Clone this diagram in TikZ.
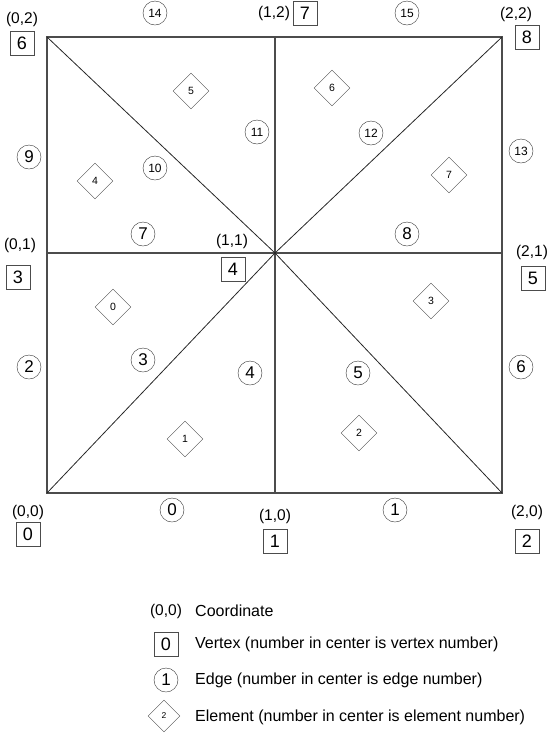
\documentclass[tikz,border=0pt]{standalone}
\usepackage{fontspec}
\setmainfont{Liberation Sans}
\usetikzlibrary{shapes.geometric}

\tikzset{
    vertexbox/.style={draw=black!70, rectangle, minimum size=24pt, inner sep=0pt, font=\fontsize{18}{20}\selectfont},
    edgecirc/.style={draw=black!80, circle, minimum size=24pt, inner sep=0pt, font=\fontsize{17}{19}\selectfont},
    edgesmall/.style={edgecirc, font=\fontsize{12}{14}\selectfont},
    elemdiam/.style={draw=black!70, diamond, aspect=1, minimum size=36pt, inner sep=0pt, font=\fontsize{10.5}{12}\selectfont},
    coordlbl/.style={inner sep=0pt, font=\fontsize{15.5}{17}\selectfont},
    legendtext/.style={anchor=west, inner sep=0pt, font=\fontsize{16}{18}\selectfont},
    meshline/.style={draw=black!70, line width=1.3pt},
    diagline/.style={draw=black!85, line width=0.8pt}
}

\begin{document}
\begin{tikzpicture}[x=1pt, y=-1pt]

    \useasboundingbox (0,0) rectangle (550,740);

    % Mesh corners
    \coordinate (p00) at (47,493);
    \coordinate (p10) at (275,493);
    \coordinate (p20) at (502,493);
    \coordinate (p01) at (47,253);
    \coordinate (p11) at (275,253);
    \coordinate (p21) at (502,253);
    \coordinate (p02) at (47,37);
    \coordinate (p12) at (275,37);
    \coordinate (p22) at (502,37);

    % Draw the mesh
    \draw[meshline] (p00) rectangle (p22);
    \draw[meshline] (p10) -- (p12);
    \draw[meshline] (p01) -- (p21);
    \draw[diagline] (p00) -- (p11) -- (p22);
    \draw[diagline] (p02) -- (p11) -- (p20);

    % Coordinates
    \node[coordlbl] (c0) at (28,512) {(0,0)};
    \node[coordlbl] (c1) at (275,516) {(1,0)};
    \node[coordlbl] (c2) at (527,512) {(2,0)};
    \node[coordlbl] (c3) at (20,245) {(0,1)};
    \node[coordlbl] (c4) at (232,241) {(1,1)};
    \node[coordlbl] (c5) at (532,252) {(2,1)};
    \node[coordlbl] (c6) at (22,19) {(0,2)};
    \node[coordlbl] (c7) at (274,13) {(1,2)};
    \node[coordlbl] (c8) at (516,14) {(2,2)};

    % Vertices
    \node[vertexbox] (v0) at (28,534) {0};
    \node[vertexbox] (v1) at (275,541) {1};
    \node[vertexbox] (v2) at (527,541) {2};
    \node[vertexbox] (v3) at (18,277) {3};
    \node[vertexbox] (v4) at (233,269) {4};
    \node[vertexbox] (v5) at (533,278) {5};
    \node[vertexbox] (v6) at (22,43) {6};
    \node[vertexbox] (v7) at (305,13) {7};
    \node[vertexbox] (v8) at (527,37) {8};

    % Edges
    \node[edgecirc] (e0) at (172,510) {0};
    \node[edgecirc] (e1) at (395,510) {1};
    \node[edgecirc] (e2) at (29,367) {2};
    \node[edgecirc] (e3) at (143,360) {3};
    \node[edgecirc] (e4) at (250,373) {4};
    \node[edgecirc] (e5) at (358,373) {5};
    \node[edgecirc] (e6) at (521,367) {6};
    \node[edgecirc] (e7) at (143,234) {7};
    \node[edgecirc] (e8) at (407,234) {8};
    \node[edgecirc] (e9) at (29,157) {9};
    \node[edgesmall] (e10) at (155,168) {10};
    \node[edgesmall] (e11) at (257,132) {11};
    \node[edgesmall] (e12) at (371,133) {12};
    \node[edgesmall] (e13) at (521,151) {13};
    \node[edgesmall] (e14) at (155,13) {14};
    \node[edgesmall] (e15) at (407,13) {15};

    % Elements
    \node[elemdiam] (el0) at (113,307) {0};
    \node[elemdiam] (el1) at (185,439) {1};
    \node[elemdiam] (el2) at (359,433) {2};
    \node[elemdiam] (el3) at (431,301) {3};
    \node[elemdiam] (el4) at (95,181) {4};
    \node[elemdiam] (el5) at (191,91) {5};
    \node[elemdiam] (el6) at (332,88) {6};
    \node[elemdiam] (el7) at (449,175) {7};

    % Legend
    \node[coordlbl] (lcoord) at (166,611) {(0,0)};
    \node[vertexbox] (lvertex) at (166,644) {0};
    \node[edgecirc] (ledge) at (166,680) {1};
    \node[elemdiam, minimum size=32pt, font=\fontsize{8.5}{10}\selectfont] (lelem) at (164,716) {2};
    \node[legendtext] (tcoord) at (195,611) {Coordinate};
    \node[legendtext] (tvertex) at (195,644) {Vertex (number in center is vertex number)};
    \node[legendtext] (tedge) at (195,680) {Edge (number in center is edge number)};
    \node[legendtext] (telem) at (195,717) {Element (number in center is element number)};

\end{tikzpicture}
\end{document}
